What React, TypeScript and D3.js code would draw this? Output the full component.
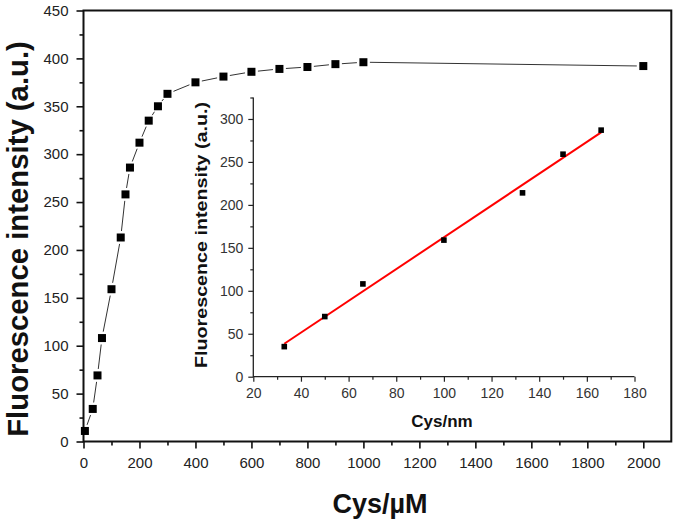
import { useEffect, useRef } from "react";
import * as d3 from "d3";

// main curve (Cys in µM)
const mainX = [5, 33, 50, 66, 100, 133, 150, 166, 200, 233, 266, 300, 400, 500, 600, 700, 800, 900, 1000, 2000];
const mainY = [11, 34, 69, 108, 159, 213, 258, 286, 312, 335, 350, 363, 375, 381, 386, 389, 391, 394, 396, 392];

// inset linear range (Cys in nm)
const insetX = [33, 50, 66, 100, 133, 150, 166];
const insetY = [35, 70, 108, 159, 214, 259, 287];

const mainXTicks = d3.range(0, 2001, 200);
const mainYTicks = d3.range(0, 451, 50);
const insetXTicks = d3.range(20, 181, 20);
const insetYTicks = d3.range(0, 301, 50);

const font = "Arial, 'Liberation Sans', sans-serif";

export default function App() {
    const ref = useRef<SVGSVGElement>(null);

    useEffect(() => {
        const svg = d3.select(ref.current);
        svg.selectAll("*").remove();

        const x = d3.scaleLinear().domain([0, 2100]).range([83.5, 671.3]);
        const y = d3.scaleLinear().domain([0, 450]).range([441.5, 10.5]);

        // frame
        svg.append("rect")
            .attr("x", x(0)).attr("y", y(450))
            .attr("width", x(2100) - x(0)).attr("height", y(0) - y(450))
            .attr("fill", "none").attr("stroke", "#111").attr("stroke-width", 2);

        const xAxis = d3.axisBottom(x).tickValues(mainXTicks).tickSize(7).tickPadding(9).tickFormat(d3.format("d"));
        const xMinor = d3.axisBottom(x).tickValues(d3.range(100, 2001, 200)).tickSize(4).tickFormat(() => "");
        const yAxis = d3.axisLeft(y).tickValues(mainYTicks).tickSize(7).tickPadding(8).tickFormat(d3.format("d"));
        const yMinor = d3.axisLeft(y).tickValues(d3.range(25, 450, 50)).tickSize(4).tickFormat(() => "");

        const gx = svg.append("g").attr("transform", `translate(0,${y(0)})`).call(xAxis);
        svg.append("g").attr("transform", `translate(0,${y(0)})`).call(xMinor);
        const gy = svg.append("g").attr("transform", `translate(${x(0)},0)`).call(yAxis);
        svg.append("g").attr("transform", `translate(${x(0)},0)`).call(yMinor);
        svg.selectAll(".domain").remove();
        svg.selectAll(".tick line").attr("stroke", "#111").attr("stroke-width", 1.6);
        gx.selectAll("text").attr("font-size", 15).attr("font-family", font).attr("fill", "#222");
        gy.selectAll("text").attr("font-size", 15).attr("font-family", font).attr("fill", "#222");

        // connecting segments with gaps around the markers
        const gap = 6.5;
        const pts = mainX.map((v, i) => [x(v), y(mainY[i])]);
        const seg = svg.append("g").attr("stroke", "#333").attr("stroke-width", 1);
        for (let i = 0; i < pts.length - 1; i++) {
            const [x1, y1] = pts[i];
            const [x2, y2] = pts[i + 1];
            const d = Math.hypot(x2 - x1, y2 - y1);
            if (d <= gap * 2) continue;
            const ux = (x2 - x1) / d, uy = (y2 - y1) / d;
            seg.append("line")
                .attr("x1", x1 + ux * gap).attr("y1", y1 + uy * gap)
                .attr("x2", x2 - ux * gap).attr("y2", y2 - uy * gap);
        }
        svg.append("g").selectAll("rect").data(pts).enter().append("rect")
            .attr("x", d => d[0] - 4).attr("y", d => d[1] - 4)
            .attr("width", 8).attr("height", 8).attr("fill", "#000");

        svg.append("text")
            .attr("transform", "translate(28,239) rotate(-90)")
            .attr("text-anchor", "middle")
            .attr("font-family", font).attr("font-weight", "bold").attr("font-size", 29.3)
            .attr("fill", "#111")
            .text("Fluorescence intensity (a.u.)");

        svg.append("text")
            .attr("x", 380).attr("y", 513)
            .attr("text-anchor", "middle")
            .attr("font-family", font).attr("font-weight", "bold").attr("font-size", 27)
            .attr("fill", "#111")
            .text("Cys/µM");

        // inset
        const ix = d3.scaleLinear().domain([20, 180]).range([253.3, 634.5]);
        const iy = d3.scaleLinear().domain([0, 325]).range([376.7, 97.5]);
        const inset = svg.append("g");

        inset.append("path")
            .attr("d", `M${ix(20)},${iy(325)}V${iy(0)}H${ix(180)}`)
            .attr("fill", "none").attr("stroke", "#222").attr("stroke-width", 1.3);

        const ixAxis = d3.axisBottom(ix).tickValues(insetXTicks).tickSize(5).tickPadding(6).tickFormat(d3.format("d"));
        const ixMinor = d3.axisBottom(ix).tickValues(d3.range(30, 180, 20)).tickSize(3).tickFormat(() => "");
        const iyAxis = d3.axisLeft(iy).tickValues(insetYTicks).tickSize(5).tickPadding(5).tickFormat(d3.format("d"));
        const iyMinor = d3.axisLeft(iy).tickValues(d3.range(25, 326, 50)).tickSize(3).tickFormat(() => "");

        const igx = inset.append("g").attr("transform", `translate(0,${iy(0)})`).call(ixAxis);
        inset.append("g").attr("transform", `translate(0,${iy(0)})`).call(ixMinor);
        const igy = inset.append("g").attr("transform", `translate(${ix(20)},0)`).call(iyAxis);
        inset.append("g").attr("transform", `translate(${ix(20)},0)`).call(iyMinor);
        inset.selectAll(".domain").remove();
        inset.selectAll(".tick line").attr("stroke", "#222").attr("stroke-width", 1.2);
        igx.selectAll("text").attr("font-size", 14).attr("font-family", font).attr("fill", "#333");
        igy.selectAll("text").attr("font-size", 14).attr("font-family", font).attr("fill", "#333");

        // least-squares fit
        const mx = d3.mean(insetX)!;
        const my = d3.mean(insetY)!;
        const sxy = d3.sum(insetX, (v, i) => (v - mx) * (insetY[i] - my));
        const sxx = d3.sum(insetX, v => (v - mx) ** 2);
        const slope = sxy / sxx;
        const icpt = my - slope * mx;
        const x0 = insetX[0], x1 = insetX[insetX.length - 1];
        inset.append("line")
            .attr("x1", ix(x0)).attr("y1", iy(slope * x0 + icpt))
            .attr("x2", ix(x1)).attr("y2", iy(slope * x1 + icpt))
            .attr("stroke", "#ff0000").attr("stroke-width", 2);

        inset.append("g").selectAll("rect").data(insetX).enter().append("rect")
            .attr("x", (d) => ix(d) - 2.8).attr("y", (d, i) => iy(insetY[i]) - 2.8)
            .attr("width", 5.6).attr("height", 5.6).attr("fill", "#000");

        inset.append("text")
            .attr("transform", "translate(207,235) rotate(-90)")
            .attr("text-anchor", "middle")
            .attr("font-family", font).attr("font-weight", "bold").attr("font-size", 17)
            .attr("textLength", 266).attr("lengthAdjust", "spacingAndGlyphs")
            .attr("fill", "#111")
            .text("Fluorescence intensity (a.u.)");

        inset.append("text")
            .attr("x", 442).attr("y", 427)
            .attr("text-anchor", "middle")
            .attr("font-family", font).attr("font-weight", "bold").attr("font-size", 17)
            .attr("fill", "#111")
            .text("Cys/nm");
    }, []);

    return <svg ref={ref} width={675} height={522}
                style={{position: "absolute", left: 0, top: 0, background: "#fff"}}/>;
}
